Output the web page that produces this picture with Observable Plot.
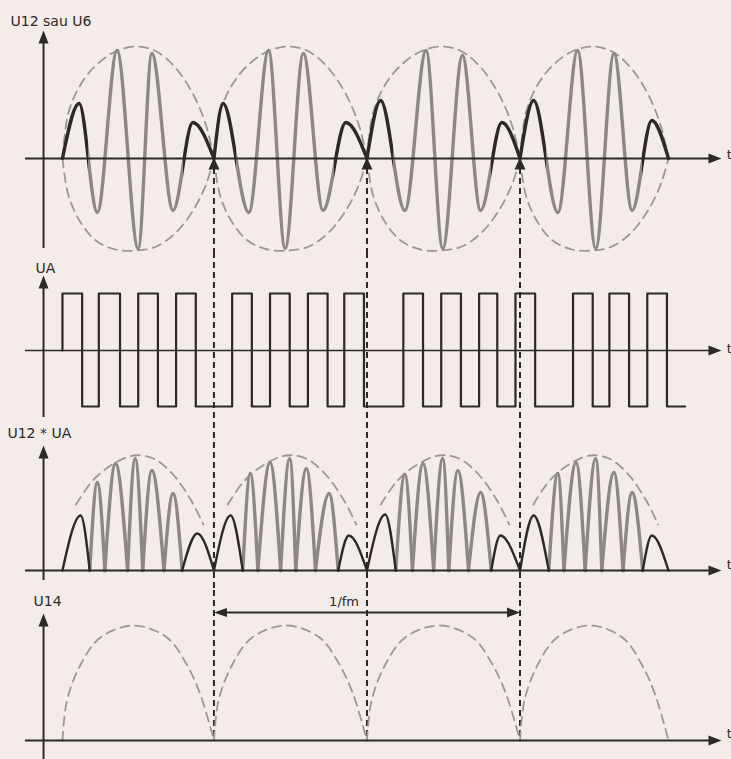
<!DOCTYPE html>
<html>
<head>
<meta charset="utf-8">
<script src="https://cdn.jsdelivr.net/npm/d3@7"></script>
<script src="https://cdn.jsdelivr.net/npm/@observablehq/plot@0.6"></script>
<style>
  html, body { margin: 0; padding: 0; background: #f3ece8; }
  #fig { width: 731px; }
  #fig svg { display: block; }
</style>
</head>
<body>
<div id="fig"></div>
<script>
// ---- data (time in arbitrary units, one modulation half-period ≈ 10) ----
const burstEdges = [0, 10.0, 20.1, 30.2, 40.0];
const syncMarks = [10.0, 20.1, 30.2];

// U12 / U6 : carrier extremes inside each burst (time, amplitude)
const carrierT = [
  [1.1, 2.3, 3.6, 5.0, 5.9, 7.3, 8.6],
  [10.6, 12.3, 13.6, 14.7, 15.9, 17.2, 18.7],
  [21.0, 22.6, 24.0, 25.1, 26.4, 27.6, 29.0],
  [31.1, 32.7, 34.0, 35.2, 36.4, 37.6, 38.9]
];
const carrierV = [
  [5.5, -5.4, 10.8, -9.0, 10.5, -5.2, 3.6],
  [5.5, -5.4, 10.8, -9.0, 10.5, -5.2, 3.6],
  [5.8, -5.2, 10.8, -9.0, 10.3, -5.2, 3.6],
  [5.8, -5.4, 10.8, -9.0, 10.5, -5.2, 3.8]
];
// modulation envelope of one burst (fraction of burst, upper / lower)
const envFrac  = [0, 0.04, 0.12, 0.22, 0.35, 0.49, 0.62, 0.75, 0.87, 0.95, 1];
const envUpper = [0, 4.6, 7.4, 9.3, 10.7, 11.2, 10.7, 9.0, 6.2, 3.2, 0];
const envLower = [0, -3.7, -6.4, -8.2, -9.1, -9.2, -8.8, -7.4, -5.0, -2.5, 0];

// UA : switching square wave, edge times (first edge rising)
const uaEdges = [0, 1.3, 2.4, 3.8, 5.0, 6.3, 7.5, 8.8, 11.2, 12.5, 13.7, 15.0, 16.2, 17.5,
  18.6, 19.9, 22.5, 23.8, 25.0, 26.3, 27.5, 28.7, 29.9, 31.2, 33.7, 35.0, 36.1, 37.4, 38.6, 39.9];
const uaEnd = 41.1;
const uaHigh = 5.7;
const uaLow = -5.6;

// U12 * UA : rectified lobes, alternating peak / zero times inside each burst
const rectT = [
  [1.2, 1.8, 2.3, 2.8, 3.5, 4.3, 4.8, 5.3, 5.9, 6.7, 7.3, 7.9, 8.9],
  [11.1, 11.9, 12.4, 12.9, 13.7, 14.4, 15.0, 15.4, 16.1, 16.7, 17.6, 18.2, 18.9],
  [21.3, 22.0, 22.6, 23.1, 23.8, 24.5, 25.1, 25.5, 26.1, 26.8, 27.6, 28.3, 28.9],
  [31.1, 32.1, 32.7, 33.1, 33.9, 34.5, 35.2, 35.6, 36.4, 37.0, 37.6, 38.3, 38.9]
];
const rectPeak = [
  [5.5, 8.8, 10.7, 11.2, 10.0, 7.7, 3.7],
  [5.5, 9.7, 10.8, 11.2, 10.2, 7.7, 3.5],
  [5.6, 9.6, 10.7, 11.2, 10.0, 7.8, 3.5],
  [5.5, 9.7, 10.8, 11.2, 9.8, 7.8, 3.5]
];
const rectEnvFrac = [0.09, 0.2, 0.33, 0.47, 0.6, 0.73, 0.85, 0.93];
const rectEnvVal  = [6.6, 9.0, 10.6, 11.5, 11.2, 9.6, 7.0, 4.6];

// U14 : demodulated output arcs
const u14Frac = [0, 0.03, 0.12, 0.25, 0.47, 0.69, 0.82, 0.91, 1];
const u14Val  = [0, 4.0, 7.6, 10.3, 11.5, 10.3, 7.6, 4.6, 0];

const labels = ["U12 sau U6", "UA", "U12 * UA", "U14"];
const periodLabel = "1/fm";
const timeLabel = "t";

// ---- layout & style ----
const W = 731;
const xDomain = [-4.09, 44.16];
const INK = "#2b2929";
const GREY = "#8c8888";
const CARRIER = "#8c8889";
const DASH_GREY = "#9d9898";
const FONT = "DejaVu Sans";
const axisX0 = -2.44, axisXTip = 43.5, axisYAt = -1.25;

// filled arrowheads with the tip at the anchor point
const headUp    = {draw(c) { c.moveTo(0, 0); c.lineTo(5, 13); c.lineTo(-5, 13); c.closePath(); }};
const headRight = {draw(c) { c.moveTo(0, 0); c.lineTo(-13, -5); c.lineTo(-13, 5); c.closePath(); }};
const headLeft  = {draw(c) { c.moveTo(0, 0); c.lineTo(13, -4.5); c.lineTo(13, 4.5); c.closePath(); }};
const headMark  = {draw(c) { c.moveTo(0, 0); c.lineTo(5.5, 12); c.lineTo(-5.5, 12); c.closePath(); }};

function head(x, y, symbol) {
  return Plot.dot([{x, y}], {x: "x", y: "y", symbol, fill: INK, stroke: "none"});
}
function label(text, x, y, size = 14) {
  return Plot.text([text], {x, y, text: d => d, textAnchor: "start", lineAnchor: "bottom",
    fontSize: size, fontFamily: FONT, fill: INK});
}
function axes(yBottom, yTop, tY, baseWidth = 2) {
  return [
    Plot.ruleY([0], {x1: axisX0, x2: axisXTip - 0.5, stroke: INK, strokeWidth: baseWidth}),
    head(axisXTip, 0, headRight),
    Plot.ruleX([axisYAt], {y1: yBottom, y2: yTop - 0.5, stroke: INK, strokeWidth: 2}),
    head(axisYAt, yTop, headUp),
    label(timeLabel, 43.85, tY, 13)
  ];
}
function panel(height, yDomain, marks) {
  return Plot.plot({
    width: W, height, margin: 0,
    x: {domain: xDomain, axis: null},
    y: {domain: yDomain, axis: null},
    style: {background: "transparent"},
    marks
  });
}
const syncRule = opts => Plot.ruleX(syncMarks, {stroke: INK, strokeWidth: 2, strokeDasharray: "6,4", ...opts});
const dashed = {stroke: DASH_GREY, strokeWidth: 1.8, strokeDasharray: "9,6", curve: "catmull-rom"};

// ---- derived rows ----
const carrierRows = carrierT.flatMap((ts, b) => [
  {b, t: burstEdges[b], v: 0},
  ...ts.map((t, i) => ({b, t, v: carrierV[b][i]})),
  {b, t: burstEdges[b + 1], v: 0}
]);
const envRows = burstEdges.slice(0, -1).flatMap((s, b) => {
  const e = burstEdges[b + 1];
  return envFrac.flatMap((f, i) => [
    {z: b + "u", t: s + f * (e - s), v: envUpper[i]},
    {z: b + "l", t: s + f * (e - s), v: envLower[i]}
  ]);
});
const uaRows = [{t: uaEdges[0], v: 0}]
  .concat(uaEdges.map((t, i) => ({t, v: i % 2 === 0 ? uaHigh : uaLow})))
  .concat([{t: uaEnd, v: uaLow}]);
const lobeRows = rectT.flatMap((ts, b) => {
  const T = [burstEdges[b], ...ts, burstEdges[b + 1]];
  return rectPeak[b].flatMap((p, i) => {
    const z = b + "-" + i, edge = i === 0 || i === rectPeak[b].length - 1;
    return [{z, edge, t: T[2 * i], v: 0}, {z, edge, t: T[2 * i + 1], v: p}, {z, edge, t: T[2 * i + 2], v: 0}];
  });
});
const rectEnvRows = burstEdges.slice(0, -1).flatMap((s, b) =>
  rectEnvFrac.map((f, i) => ({b, t: s + f * (burstEdges[b + 1] - s), v: rectEnvVal[i]})));
const u14Rows = burstEdges.slice(0, -1).flatMap((s, b) =>
  u14Frac.map((f, i) => ({b, t: s + f * (burstEdges[b + 1] - s), v: u14Val[i]})));

// ---- panel 1: U12 / U6 ----
const p1 = panel(252, [-9.4, 15.8], [
  syncRule({y1: -1.0, y2: -9.4}),
  Plot.line(envRows, {x: "t", y: "v", z: "z", ...dashed}),
  Plot.line(carrierRows, {x: "t", y: "v", z: "b", curve: "monotone-x", stroke: CARRIER, strokeWidth: 3.4}),
  ...axes(-9.0, 12.8, 0),
  ...syncMarks.map(t => head(t, 0.1, headMark)),
  label(labels[0], -3.43, 13.3)
]);

// first and last lobe of each burst in dark ink, the rest in grey
try {
  const xs = d3.scaleLinear(xDomain, [0, W]);
  const defs = d3.select(p1).insert("defs", ":first-child");
  const grad = defs.append("linearGradient").attr("id", "carrierTone")
    .attr("gradientUnits", "userSpaceOnUse").attr("x1", 0).attr("x2", W).attr("y1", 0).attr("y2", 0);
  const stop = (t, c) => grad.append("stop").attr("offset", Math.max(0, Math.min(1, xs(t) / W))).attr("stop-color", c);
  carrierT.forEach((ts, b) => {
    const z1 = (ts[0] + ts[1]) / 2, z2 = (ts[5] + ts[6]) / 2;
    stop(burstEdges[b], INK); stop(z1, INK); stop(z1, GREY); stop(z2, GREY); stop(z2, INK); stop(burstEdges[b + 1], INK);
  });
  p1.querySelectorAll("[stroke]").forEach(el => {
    if ((el.getAttribute("stroke") || "").toLowerCase() === CARRIER) {
      el.setAttribute("stroke", "url(#carrierTone)");
    }
  });
} catch (e) { console.warn(e); }

// ---- panel 2: UA ----
const p2 = panel(170, [-7.2, 9.8], [
  syncRule({}),
  Plot.line(uaRows, {x: "t", y: "v", curve: "step-after", stroke: INK, strokeWidth: 2.2}),
  ...axes(-6.7, 7.5, -0.2, 1.5),
  label(labels[1], -1.78, 7.8)
]);

// ---- panel 3: U12 * UA ----
const p3 = panel(168, [-2.0, 14.8], [
  syncRule({}),
  Plot.line(rectEnvRows, {x: "t", y: "v", z: "b", ...dashed}),
  Plot.line(lobeRows.filter(d => !d.edge), {x: "t", y: "v", z: "z", curve: "monotone-x", stroke: GREY, strokeWidth: 3.4}),
  Plot.line(lobeRows.filter(d => d.edge), {x: "t", y: "v", z: "z", curve: "monotone-x", stroke: INK, strokeWidth: 2.4}),
  ...axes(-1.0, 12.5, 0.2),
  label(labels[2], -3.63, 13.3)
]);

// ---- panel 4: U14 ----
const p4 = panel(169, [-1.9, 15.0], [
  syncRule({y1: 15.0, y2: 0}),
  Plot.line(u14Rows, {x: "t", y: "v", z: "b", ...dashed}),
  Plot.ruleY([12.8], {x1: syncMarks[0] + 0.5, x2: syncMarks[2] - 0.5, stroke: INK, strokeWidth: 2}),
  head(syncMarks[0], 12.8, headLeft),
  head(syncMarks[2], 12.8, headRight),
  label(periodLabel, 17.6, 13.5, 13),
  ...axes(-1.9, 12.7, 0.3),
  label(labels[3], -1.91, 13.5)
]);

const fig = document.getElementById("fig");
[p1, p2, p3, p4].forEach(s => fig.appendChild(s));
</script>
</body>
</html>
